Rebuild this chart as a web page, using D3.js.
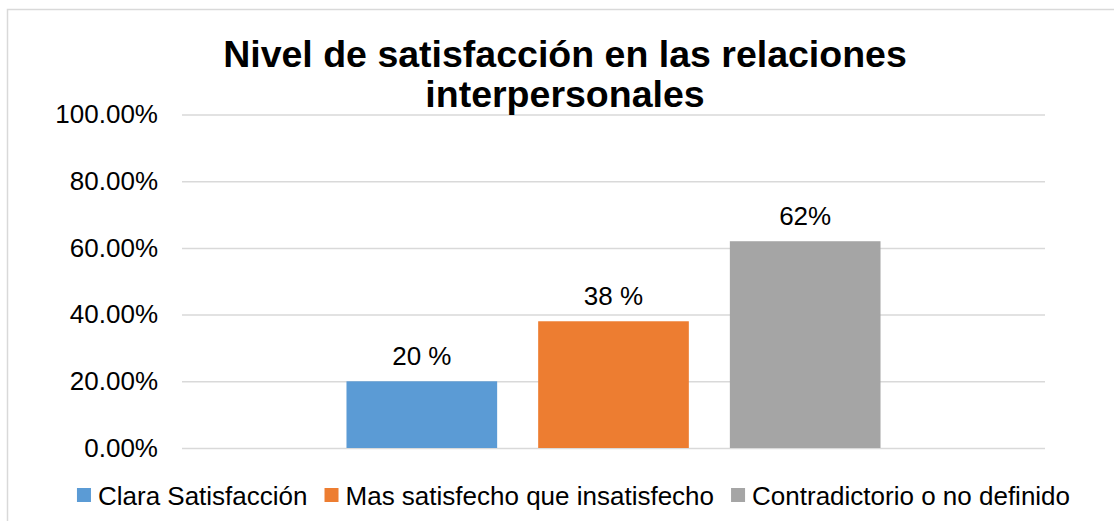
<!DOCTYPE html>
<html>
<head>
<meta charset="utf-8">
<script src="https://cdn.jsdelivr.net/npm/d3@7"></script>
<style>
  body { margin: 0; background: #fff; }
  svg { display: block; font-family: "Liberation Sans", Arial, sans-serif; }
</style>
</head>
<body>
<div id="chart"></div>
<script>
const titleLines = ["Nivel de satisfacción en las relaciones", "interpersonales"];
const series = ["Clara Satisfacción", "Mas satisfecho que insatisfecho", "Contradictorio o no definido"];
const values = [0.20, 0.38, 0.62];
const valueLabels = ["20 %", "38 %", "62%"];
const colors = ["#5B9BD5", "#ED7D31", "#A5A5A5"];
const yTicks = [0, 0.2, 0.4, 0.6, 0.8, 1.0];

const config = {
  width: 1114,
  height: 521,
  margin: { top: 114.5, right: 69, bottom: 73, left: 182 },
};

const width = config.width - config.margin.left - config.margin.right;
const height = config.height - config.margin.top - config.margin.bottom;

const svg = d3
  .select("#chart")
  .append("svg")
  .attr("width", config.width)
  .attr("height", config.height);

// chart border (runs off the right and bottom edges)
svg
  .append("rect")
  .attr("x", 7.5)
  .attr("y", 9.5)
  .attr("width", 1200)
  .attr("height", 600)
  .attr("fill", "none")
  .attr("stroke", "#D9D9D9")
  .attr("stroke-width", 1.5);

const g = svg
  .append("g")
  .attr("transform", `translate(${config.margin.left},${config.margin.top})`);

const yScale = d3.scaleLinear().domain([0, 1]).range([height, 0]);

// single category, three series clustered in the middle
const x0 = d3.scaleBand().domain(["all"]).range([0, width]).paddingOuter(0.308);
const x1 = d3.scaleBand().domain(series).range([0, x0.bandwidth()]).paddingInner(0.214);

const yAxis = d3
  .axisLeft(yScale)
  .tickValues(yTicks)
  .tickFormat(d3.format(".2%"))
  .tickSizeInner(-width)
  .tickSizeOuter(0)
  .tickPadding(24);

const yAxisGroup = g.append("g").call(yAxis);
yAxisGroup.select(".domain").remove();
yAxisGroup.selectAll(".tick line").attr("stroke", "#D9D9D9").attr("stroke-width", 1.5);
yAxisGroup
  .selectAll(".tick text")
  .attr("fill", "#000")
  .style("font-size", "26px");

const bars = g.append("g").attr("transform", `translate(${x0("all")},0)`);

bars
  .selectAll("rect")
  .data(values)
  .join("rect")
  .attr("x", (d, i) => x1(series[i]))
  .attr("y", (d) => yScale(d))
  .attr("width", x1.bandwidth())
  .attr("height", (d) => height - yScale(d))
  .attr("fill", (d, i) => colors[i]);

bars
  .selectAll("text")
  .data(values)
  .join("text")
  .attr("x", (d, i) => x1(series[i]) + x1.bandwidth() / 2)
  .attr("y", (d) => yScale(d) - 16)
  .attr("text-anchor", "middle")
  .style("font-size", "26px")
  .attr("fill", "#000")
  .text((d, i) => valueLabels[i]);

// title
svg
  .append("text")
  .attr("text-anchor", "middle")
  .style("font-size", "37.5px")
  .style("font-weight", "bold")
  .attr("fill", "#000")
  .selectAll("tspan")
  .data(titleLines)
  .join("tspan")
  .attr("x", 565)
  .attr("y", (d, i) => 67 + i * 40)
  .text((d) => d);

// legend
const legend = svg.append("g").attr("transform", "translate(0,505)");
const items = legend
  .selectAll("g")
  .data(series)
  .join("g");

items
  .append("rect")
  .attr("y", -17)
  .attr("width", 14)
  .attr("height", 14)
  .attr("fill", (d, i) => colors[i]);

items
  .append("text")
  .attr("x", 21)
  .style("font-size", "26px")
  .attr("fill", "#000")
  .text((d) => d);

let offset = 0;
const itemWidths = [];
items.each(function () {
  const w = 21 + d3.select(this).select("text").node().getComputedTextLength();
  itemWidths.push(w);
});
const gap = 17;
const totalWidth = d3.sum(itemWidths) + gap * (itemWidths.length - 1);
let start = 573.5 - totalWidth / 2;
items.attr("transform", (d, i) => {
  const x = start + offset;
  offset += itemWidths[i] + gap;
  return `translate(${x},0)`;
});
</script>
</body>
</html>
